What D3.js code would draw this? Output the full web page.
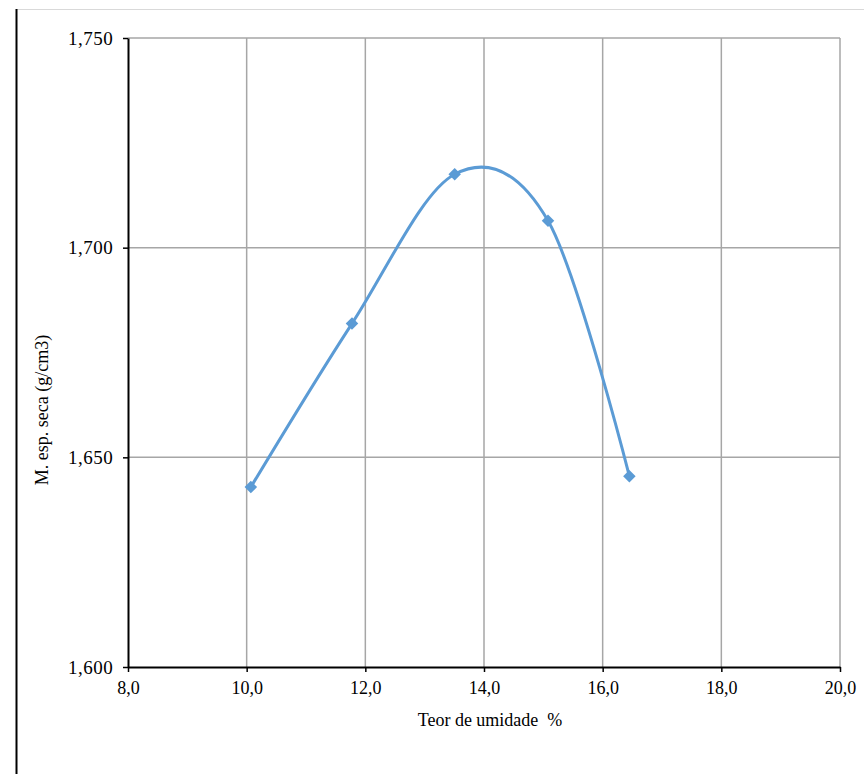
<!DOCTYPE html>
<html><head><meta charset="utf-8">
<script src="https://cdn.jsdelivr.net/npm/d3@7"></script>
<style>body{margin:0;background:#fff;}svg{display:block;}text{font-family:"Times New Roman","Liberation Serif","DejaVu Serif",serif !important;white-space:pre;}</style>
</head><body>
<script>
const moisture = [10.07, 11.775, 13.506, 15.079, 16.45];
const density = [1.6429, 1.6819, 1.7175, 1.7064, 1.6455];
const xTicks = [8, 10, 12, 14, 16, 18, 20];
const yTicks = [1.600, 1.650, 1.700, 1.750];
const xTitle = "Teor de umidade  %";
const yTitle = "M. esp. seca (g/cm3)";

const W = 864, H = 774;
const m = {left:128, right:840, top:38, bottom:667};
const svg = d3.select("body").append("svg").attr("width", W).attr("height", H);

// outer frame lines
svg.append("line").attr("x1",16).attr("x2",W).attr("y1",9.5).attr("y2",9.5).attr("stroke","#d9d9d9").attr("stroke-width",1);
svg.append("line").attr("x1",16.5).attr("x2",16.5).attr("y1",9).attr("y2",H).attr("stroke","#000").attr("stroke-width",2);

const x = d3.scaleLinear().domain([8,20]).range([m.left, m.right]);
const y = d3.scaleLinear().domain([1.6,1.75]).range([m.bottom, m.top]);
const fmtX = v => d3.format(".1f")(v).replace(".", ",");
const fmtY = v => d3.format(".3f")(v).replace(".", ",");

// grid
const g = svg.append("g");
g.selectAll("line.vx").data(xTicks.slice(1)).join("line")
  .attr("x1", d=>x(d)).attr("x2", d=>x(d)).attr("y1", m.top).attr("y2", m.bottom)
  .attr("stroke", "#a6a6a6").attr("stroke-width", 1.5);
g.selectAll("line.hy").data(yTicks.slice(1)).join("line")
  .attr("x1", m.left).attr("x2", m.right).attr("y1", d=>y(d)).attr("y2", d=>y(d))
  .attr("stroke", "#a6a6a6").attr("stroke-width", 1.5);

// axes
const xAxis = svg.append("g").attr("transform", `translate(0,${m.bottom})`)
  .call(d3.axisBottom(x).tickValues(xTicks).tickFormat(fmtX).tickSize(5).tickSizeOuter(0));
const yAxis = svg.append("g").attr("transform", `translate(${m.left},0)`)
  .call(d3.axisLeft(y).tickValues(yTicks).tickFormat(fmtY).tickSize(5).tickSizeOuter(0));
[xAxis, yAxis].forEach(a => {
  a.attr("font-family", null).attr("font-size", 18);
  a.select(".domain").attr("stroke", "#000").attr("stroke-width", 2);
  a.selectAll(".tick line").attr("stroke", "#000").attr("stroke-width", 1.5);
  a.selectAll("text").attr("font-size", 18).attr("fill", "#000");
});
xAxis.selectAll("text").attr("dy", "1.05em");
yAxis.selectAll("text").attr("dx", "-0.35em").attr("font-size", 19).attr("letter-spacing", "0.5px");

// curve
const pts = moisture.map((v,i)=>[v, density[i]]);
const line = d3.line().x(d=>x(d[0])).y(d=>y(d[1])).curve(d3.curveCardinal.tension(0));
svg.append("path").datum(pts).attr("d", line).attr("fill","none")
  .attr("stroke","#5b9bd5").attr("stroke-width",3);
svg.selectAll("path.mk").data(pts).join("path")
  .attr("transform", d=>`translate(${x(d[0])},${y(d[1])})`)
  .attr("d", d3.symbol(d3.symbolDiamond2, 100)())
  .attr("fill", "#5b9bd5");

// titles
svg.append("text").attr("x", 490).attr("y", 726)
  .attr("text-anchor","middle").attr("font-size",18).attr("fill","#000").text(xTitle);
svg.append("text").attr("transform", `translate(48,${410}) rotate(-90)`)
  .attr("text-anchor","middle").attr("font-size",18).attr("fill","#000").text(yTitle);
</script>
</body></html>
